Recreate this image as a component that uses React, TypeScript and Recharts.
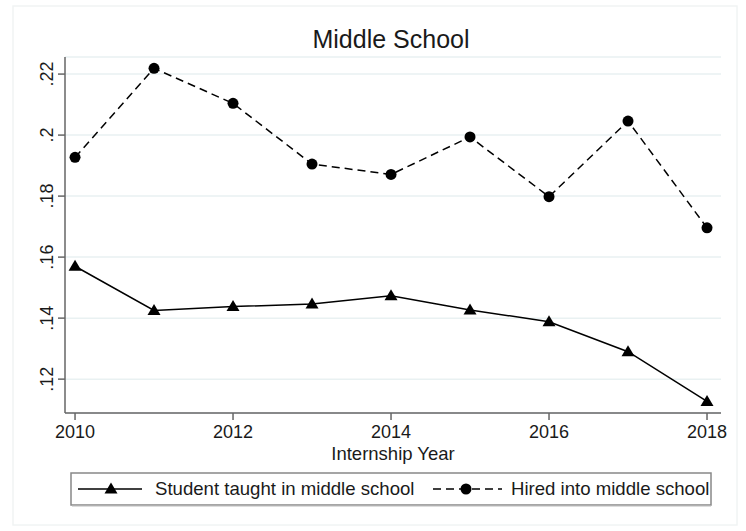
import React from "react";
import { CartesianGrid, Legend, Line, LineChart, XAxis, YAxis } from "recharts";

// Share of interns by year
const years = [2010, 2011, 2012, 2013, 2014, 2015, 2016, 2017, 2018];
const taughtShare = [0.157, 0.1425, 0.1438, 0.1446, 0.1473, 0.1427, 0.1388, 0.129, 0.1127];
const hiredShare = [0.1927, 0.2219, 0.2104, 0.1905, 0.1871, 0.1994, 0.1798, 0.2046, 0.1696];

const yTicks = [0.12, 0.14, 0.16, 0.18, 0.2, 0.22];
const xTicks = [2010, 2012, 2014, 2016, 2018];

const seriesNames = ["Student taught in middle school", "Hired into middle school"];

const FONT = '"Liberation Sans", Arial, sans-serif';
const INK = "#1a1a1a";
const AXIS = "#666";
const DASH = "8 5";

const data = years.map((year, i) => ({
  year,
  taught: taughtShare[i],
  hired: hiredShare[i],
}));

// Stata style: drop the leading zero
const fmtShare = (v: number) => String(Number(v.toFixed(2))).replace(/^0/, "");

const Triangle = ({ cx, cy }: any) => {
  if (cx == null || cy == null) return null;
  return <polygon points={`${cx},${cy - 6.5} ${cx - 6.5},${cy + 4.5} ${cx + 6.5},${cy + 4.5}`} fill="#000" />;
};

const Circle = ({ cx, cy }: any) => {
  if (cx == null || cy == null) return null;
  return <circle cx={cx} cy={cy} r={5.5} fill="#000" />;
};

const YTick = ({ x, y, payload }: any) => (
  <text
    transform={`translate(${x - 3},${y}) rotate(-90)`}
    textAnchor="middle"
    fontFamily={FONT}
    fontSize={18}
    fill={INK}
  >
    {fmtShare(payload.value)}
  </text>
);

const XTick = ({ x, y, payload }: any) => (
  <text x={x} y={y + 16} textAnchor="middle" fontFamily={FONT} fontSize={18} fill={INK}>
    {payload.value}
  </text>
);

const LegendBox = () => (
  <svg width={642} height={35} style={{ display: "block" }}>
    <rect x={1} y={1} width={640} height={32} fill="#fff" stroke="#888" strokeWidth={1.5} />
    <line x1={2} y1={34} x2={641} y2={34} stroke="#bbb" />
    <line x1={8} y1={17} x2={72} y2={17} stroke="#000" strokeWidth={1.5} />
    <Triangle cx={41} cy={17} />
    <text x={85} y={23} fontFamily={FONT} fontSize={18.6} fill={INK}>
      {seriesNames[0]}
    </text>
    <line x1={363} y1={17} x2={432} y2={17} stroke="#000" strokeWidth={1.5} strokeDasharray={DASH} />
    <Circle cx={396} cy={17} />
    <text x={441} y={23} fontFamily={FONT} fontSize={18.6} fill={INK}>
      {seriesNames[1]}
    </text>
  </svg>
);

export default function App() {
  return (
    <div style={{ position: "absolute", left: 0, top: 0, background: "#fff" }}>
      <LineChart width={746} height={531} data={data} margin={{ top: 57, right: 25, bottom: 0, left: 0 }}>
        <rect x={13} y={6} width={724} height={519} fill="none" stroke="#f1f4f4" strokeWidth={1.5} />
        <text x={391} y={48} textAnchor="middle" fontFamily={FONT} fontSize={25} fill={INK}>
          Middle School
        </text>
        <CartesianGrid vertical={false} stroke="#e9f1f2" strokeWidth={1.5} />
        <XAxis
          dataKey="year"
          type="number"
          domain={[2009.873, 2018.177]}
          ticks={xTicks}
          allowDataOverflow
          height={118}
          tickSize={7}
          tick={<XTick />}
          stroke={AXIS}
          strokeWidth={1.5}
          label={{
            value: "Internship Year",
            position: "insideBottom",
            offset: 71,
            fontFamily: FONT,
            fontSize: 18.5,
            fill: INK,
          }}
        />
        <YAxis
          type="number"
          domain={[0.1089, 0.2256]}
          ticks={yTicks}
          allowDataOverflow
          width={65}
          tickSize={7}
          tick={<YTick />}
          stroke={AXIS}
          strokeWidth={1.5}
        />
        <Legend
          layout="horizontal"
          verticalAlign="middle"
          align="center"
          wrapperStyle={{ top: 472, left: 70, width: 642 }}
          content={<LegendBox />}
        />
        <Line
          dataKey="taught"
          name={seriesNames[0]}
          stroke="#000"
          strokeWidth={1.5}
          dot={<Triangle />}
          activeDot={false}
          isAnimationActive={false}
        />
        <Line
          dataKey="hired"
          name={seriesNames[1]}
          stroke="#000"
          strokeWidth={1.5}
          strokeDasharray={DASH}
          dot={<Circle />}
          activeDot={false}
          isAnimationActive={false}
        />
      </LineChart>
    </div>
  );
}
